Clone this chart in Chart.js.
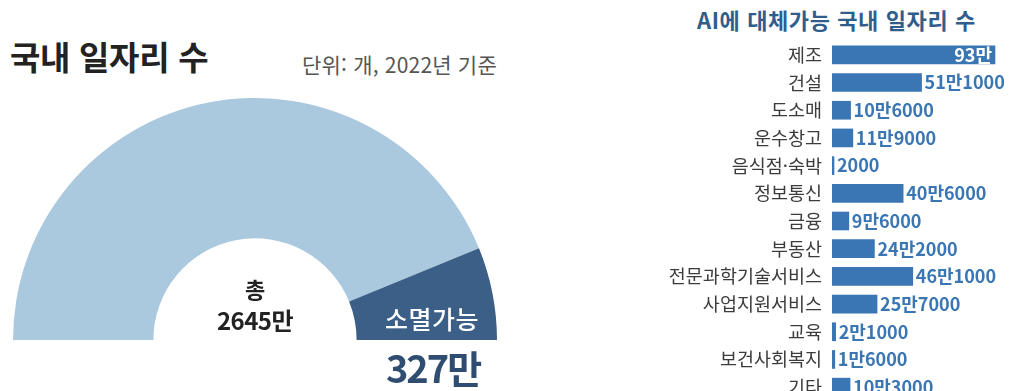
<!DOCTYPE html>
<html lang="ko">
<head>
<meta charset="utf-8">
<script src="https://cdn.jsdelivr.net/npm/chart.js@4.4.1/dist/chart.umd.min.js"></script>
<style>
  html, body { margin: 0; padding: 0; background: #fff; overflow: hidden; }
  body { width: 1009px; height: 391px; position: relative; font-family: "Noto Sans CJK KR", "Noto Sans", sans-serif; }
  .abs { position: absolute; white-space: nowrap; }
  #title-left { left: 10px; top: 32px; font-size: 33px; font-weight: 700; color: #222; letter-spacing: -0.3px; }
  #unit { left: 302px; top: 49px; font-size: 21px; color: #555; letter-spacing: 0.2px; }
  #title-right { left: 697px; top: 3px; font-size: 22px; font-weight: 700; color: #2f5e8c; letter-spacing: 0.6px; }
  #donut { left: 13px; top: 98px; }
  #bars { left: 640px; top: 41px; }
  .center-lbl { text-align: center; color: #222; font-weight: 700; }
  #c-total-1 { left: 205px; top: 272px; width: 100px; font-size: 22px; }
  #c-total-2 { left: 195px; top: 302px; width: 120px; font-size: 24px; letter-spacing: -0.5px; }
  #risk-name { left: 376px; top: 300px; width: 112px; text-align: center; font-size: 25px; color: #fff; font-weight: 500; letter-spacing: 0.5px; }
  #risk-value { left: 378px; top: 339px; width: 110px; text-align: center; font-size: 38px; font-weight: 700; color: #2e4d70; letter-spacing: -2px; }
</style>
</head>
<body>
<div class="abs" id="title-left">국내 일자리 수</div>
<div class="abs" id="unit">단위: 개, 2022년 기준</div>
<div class="abs" id="title-right">AI에 대체가능 국내 일자리 수</div>

<canvas class="abs" id="donut" width="484" height="242"></canvas>
<div class="abs center-lbl" id="c-total-1">총</div>
<div class="abs center-lbl" id="c-total-2"></div>
<div class="abs" id="risk-name"></div>
<div class="abs" id="risk-value"></div>

<canvas class="abs" id="bars" width="369" height="360"></canvas>

<script>
// 국내 일자리 (단위: 만 개)
var jobLabels = ['유지', '소멸가능'];
var jobValues = [2318, 327];
var jobColors = ['#aac8de', '#3b5f87'];

// AI 대체가능 일자리 (단위: 개)
var industries = ['제조', '건설', '도소매', '운수창고', '음식점·숙박', '정보통신', '금융',
  '부동산', '전문과학기술서비스', '사업지원서비스', '교육', '보건사회복지', '기타'];
var replaceable = [930000, 511000, 106000, 119000, 2000, 406000, 96000,
  242000, 461000, 257000, 21000, 16000, 103000];

var BAR_COLOR = '#3a76b3';
var LABEL_COLOR = '#3a76b3';

// 930000 -> "93만", 511000 -> "51만1000", 2000 -> "2000"
function formatMan(v) {
  var man = Math.floor(v / 10000);
  var rest = v % 10000;
  var s = man > 0 ? man + '만' : '';
  if (rest > 0) s += rest;
  return s;
}

var total = jobValues.reduce(function (a, b) { return a + b; }, 0);
document.getElementById('c-total-2').textContent = total + '만';
document.getElementById('risk-name').textContent = jobLabels[1];
document.getElementById('risk-value').textContent = jobValues[1] + '만';

new Chart(document.getElementById('donut'), {
  type: 'doughnut',
  data: {
    labels: jobLabels,
    datasets: [{
      data: jobValues,
      backgroundColor: jobColors,
      borderWidth: 0
    }]
  },
  options: {
    responsive: false,
    animation: false,
    rotation: -90,
    circumference: 180,
    cutout: '42%',
    layout: { padding: 0 },
    plugins: { legend: { display: false }, tooltip: { enabled: false } }
  }
});

// 막대 끝 값 라벨: 공간이 충분하면 막대 안쪽(흰색), 아니면 바깥쪽
var valueLabels = {
  id: 'valueLabels',
  afterDatasetsDraw: function (chart) {
    var ctx = chart.ctx;
    var meta = chart.getDatasetMeta(0);
    ctx.save();
    ctx.font = '700 18px "Noto Sans CJK KR", sans-serif';
    ctx.textBaseline = 'middle';
    meta.data.forEach(function (bar, i) {
      var text = formatMan(replaceable[i]);
      var w = ctx.measureText(text).width;
      if (bar.x - bar.base > w + 60 && bar.x + w + 4 > chart.chartArea.right) {
        ctx.fillStyle = '#fff';
        ctx.textAlign = 'right';
        ctx.fillText(text, bar.x - 3, bar.y);
      } else {
        ctx.fillStyle = LABEL_COLOR;
        ctx.textAlign = 'left';
        ctx.fillText(text, bar.x + 3, bar.y);
      }
    });
    ctx.restore();
  }
};

new Chart(document.getElementById('bars'), {
  type: 'bar',
  data: {
    labels: industries,
    datasets: [{
      data: replaceable,
      backgroundColor: BAR_COLOR,
      barThickness: 18,
      minBarLength: 2
    }]
  },
  options: {
    indexAxis: 'y',
    responsive: false,
    animation: false,
    layout: { padding: 0, autoPadding: false },
    plugins: { legend: { display: false }, tooltip: { enabled: false } },
    scales: {
      x: { display: false, min: 0, max: 1010000 },
      y: {
        grid: { display: false, drawTicks: false },
        border: { display: false },
        ticks: {
          color: '#3c3c3c',
          padding: 10,
          autoSkip: false,
          font: { family: '"Noto Sans CJK KR", sans-serif', size: 18.5 }
        },
        afterFit: function (scale) {
          scale.width = 192;
          scale.paddingTop = 0;
          scale.paddingBottom = 0;
        }
      }
    }
  },
  plugins: [valueLabels]
});
</script>
</body>
</html>
